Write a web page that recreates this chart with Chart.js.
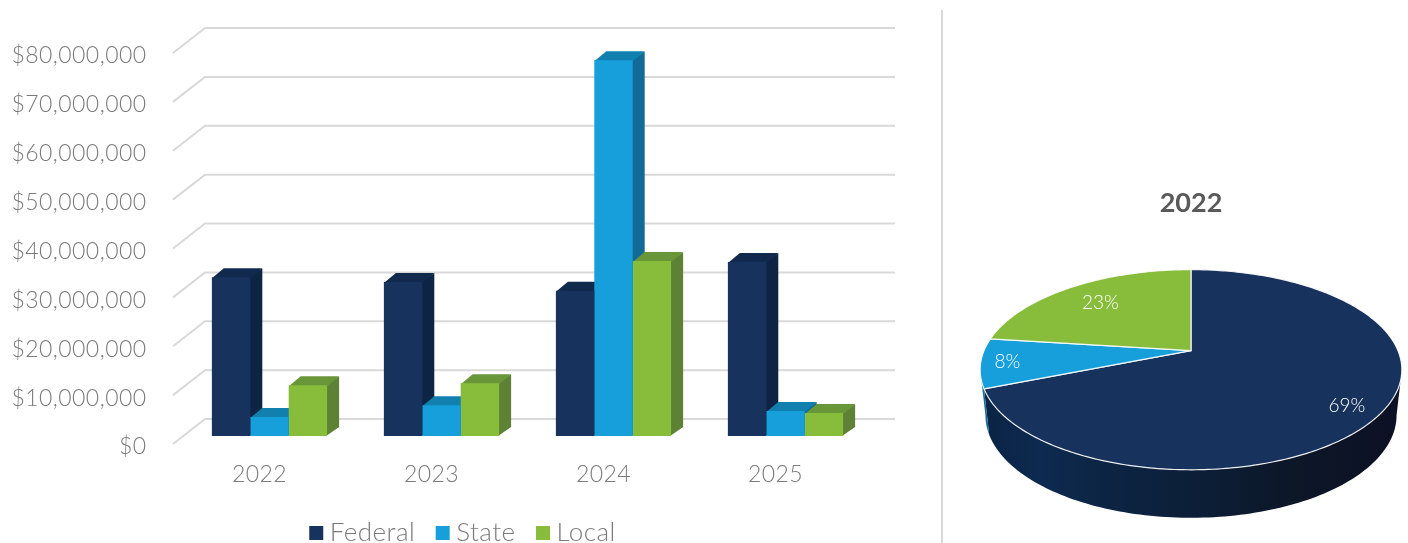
<!DOCTYPE html>
<html>
<head>
<meta charset="utf-8">
<script src="https://cdn.jsdelivr.net/npm/chart.js@4/dist/chart.umd.js"></script>
<style>
html,body{margin:0;padding:0;background:#fff;width:1408px;height:543px;overflow:hidden}
#bar{position:absolute;left:0;top:0}
#pie{position:absolute;left:942px;top:0}
#sep{position:absolute;left:941px;top:10px;width:2px;height:533px;background:#d9d9d9}
</style>
</head>
<body>
<canvas id="bar" width="930" height="556"></canvas>
<div id="sep"></div>
<canvas id="pie" width="466" height="543"></canvas>
<script>
const years = ['2022','2023','2024','2025'];
const federal = [32500000,31500000,29700000,35600000];
const state = [3900000,6300000,76900000,5100000];
const local = [10400000,10800000,35800000,4700000];
const yTicks = [0,10000000,20000000,30000000,40000000,50000000,60000000,70000000,80000000];
const pieYear = '2022';
const pieLabels = ['Federal','State','Local'];
const pieShares = [69,8,23];
const faceColors = ['#17335D','#169FDB','#88BD3C'];
const sideColors = ['#0E2444','#126A97','#5D8235'];
const topColors = ['#11294D','#1180AF','#6A963A'];

const FONT = 'Lato';
const money = v => '$' + Number(v).toLocaleString('en-US');

/* depth of the 3D bars and of the back wall, in pixels */
const barDepth = {x:12, y:9};
const wall = {frontX:-10.5, frontY:8, backX:21.5, backY:-17, right:895};
const legendShift = 30;

const bar3d = {
  id:'bar3d',
  beforeLayout(chart){ chart.ctx.letterSpacing = '0.45px'; },
  afterLayout(chart){ chart.legend.left += legendShift; chart.legend.right += legendShift; },
  beforeDatasetsDraw(chart){
    const c = chart.ctx, ys = chart.scales.y;
    c.save();
    c.strokeStyle = '#d9d9d9'; c.lineWidth = 2;
    yTicks.forEach(v=>{
      const p = ys.getPixelForValue(v);
      c.beginPath();
      c.moveTo(chart.chartArea.left+wall.frontX, p+wall.frontY);
      c.lineTo(chart.chartArea.left+wall.backX, p+wall.backY);
      c.lineTo(wall.right, p+wall.backY);
      c.stroke();
    });
    const dx = barDepth.x, dy = barDepth.y;
    years.forEach((_,i)=>{
      chart.data.datasets.forEach((d,k)=>{
        const el = chart.getDatasetMeta(k).data[i];
        const l = el.x-el.width/2, r = el.x+el.width/2, t = el.y, b = el.base;
        c.fillStyle = sideColors[k];
        c.beginPath();
        c.moveTo(r-1,t); c.lineTo(r+dx,t-dy); c.lineTo(r+dx,b-dy); c.lineTo(r-1,b);
        c.closePath(); c.fill();
        c.fillStyle = topColors[k];
        c.beginPath();
        c.moveTo(l,t+1); c.lineTo(l+dx,t-dy); c.lineTo(r+dx,t-dy); c.lineTo(r,t+1);
        c.closePath(); c.fill();
      });
    });
    c.restore();
  }
};

new Chart(document.getElementById('bar').getContext('2d'),{
  type:'bar',
  data:{labels:years,datasets:[
    {label:'Federal',data:federal,backgroundColor:faceColors[0]},
    {label:'State',data:state,backgroundColor:faceColors[1]},
    {label:'Local',data:local,backgroundColor:faceColors[2]}
  ]},
  plugins:[bar3d],
  options:{
    responsive:false,animation:false,
    layout:{padding:{top:45,right:58.5,left:0,bottom:0}},
    datasets:{bar:{categoryPercentage:0.67,barPercentage:1}},
    scales:{
      x:{grid:{display:false,drawTicks:false},border:{display:false},
        ticks:{color:'#7a7a7a',font:{family:FONT,size:23,weight:'300'},labelOffset:-10,padding:25,maxRotation:0},
        afterFit(s){s.height=57;}},
      y:{min:0,max:80000000,grid:{display:false,drawTicks:false},border:{display:false},
        afterBuildTicks(s){s.ticks=yTicks.map(v=>({value:v}));},
        ticks:{color:'#7a7a7a',font:{family:FONT,size:23,weight:'300'},labelOffset:11,padding:37,callback:money},
        afterFit(s){s.width=183.5;s.paddingTop=0;s.paddingBottom=0;}}
    },
    plugins:{
      tooltip:{enabled:false},title:{display:false},
      legend:{position:'bottom',labels:{
        color:'#7a7a7a',font:{family:FONT,size:26,weight:'300'},
        boxWidth:1,boxHeight:1,padding:27,
        generateLabels(chart){
          return chart.data.datasets.map((d,i)=>({text:d.label,fillStyle:faceColors[i],strokeStyle:faceColors[i],lineWidth:13,fontColor:'#7a7a7a',datasetIndex:i,hidden:false}));
        }
      }}
    }
  }
});

/* perspective pie: canvas angle -> screen point */
const persp = {squash:0.466, k:0.19, rim:45, rimGrow:3, bottomScale:0.975};
const labelRadial = [0.83,0.875,0.73];
const labelShiftY = [6,0,0];
const sideStops = [[0,'#0A2344'],[0.14,'#0E2A50'],[0.3,'#0C2443'],[0.5,'#0C1F38'],[0.74,'#0C1728'],[1,'#0D1024']];

function project(el,ang,r){
  const X = Math.cos(ang)*r, Y = Math.sin(ang)*r, f = 1/(1-persp.k*Y);
  return {x:el.x+el.outerRadius*X*f, y:el.y+el.outerRadius*persp.squash*Y*f};
}
function rimPath(c,el,a0,a1,first){
  const n = Math.max(2,Math.ceil(Math.abs(a1-a0)*60));
  for(let i=0;i<=n;i++){
    const p = project(el,a0+(a1-a0)*i/n,1);
    if(i===0&&first) c.moveTo(p.x,p.y); else c.lineTo(p.x,p.y);
  }
}
const pie3d = {
  id:'pie3d',
  beforeDatasetDraw(chart,args){
    const c = chart.ctx, els = chart.getDatasetMeta(args.index).data;
    const aMin = Math.asin(persp.k), aMax = Math.PI-aMin;
    const e0 = els[0];
    const R = e0.outerRadius/Math.sqrt(1-persp.k*persp.k);
    c.save();
    /* sides */
    els.forEach((el,k)=>{
      let a0 = Math.max(el.startAngle,aMin), a1 = Math.min(el.endAngle,aMax);
      if(a1<=a0) return;
      c.beginPath();
      rimPath(c,el,a0,a1,true);
      const n = 120;
      for(let i=n;i>=0;i--){
        const a = a0+(a1-a0)*i/n, p = project(el,a,1), Y = Math.sin(a);
        c.lineTo(el.x+(p.x-el.x)*persp.bottomScale, p.y+persp.rim+persp.rimGrow*Y);
      }
      c.closePath();
      if(k===0){
        const g = c.createLinearGradient(el.x-R,0,el.x+R,0);
        sideStops.forEach(s=>g.addColorStop(s[0],s[1]));
        c.fillStyle = g;
      } else c.fillStyle = sideColors[k];
      c.fill();
    });
    /* top faces */
    els.forEach((el,k)=>{
      c.beginPath();
      c.moveTo(el.x,el.y);
      rimPath(c,el,el.startAngle,el.endAngle,false);
      c.closePath();
      c.fillStyle = faceColors[k];
      c.fill();
      c.strokeStyle = 'rgba(255,255,255,0.9)';
      c.lineWidth = 1.2;
      c.lineJoin = 'round';
      c.stroke();
    });
    /* labels */
    c.fillStyle = '#ffffff';
    c.font = '300 19px '+FONT;
    c.textAlign = 'center'; c.textBaseline = 'middle';
    els.forEach((el,k)=>{
      const p = project(el,(el.startAngle+el.endAngle)/2,labelRadial[k]);
      c.fillText(pieShares[k]+'%',p.x,p.y+labelShiftY[k]);
    });
    c.restore();
    return false;
  }
};

new Chart(document.getElementById('pie').getContext('2d'),{
  type:'pie',
  data:{labels:pieLabels,datasets:[{data:pieShares,backgroundColor:faceColors,borderWidth:0}]},
  plugins:[pie3d],
  options:{
    responsive:false,animation:false,radius:207,
    layout:{padding:{top:187,left:32,right:0,bottom:61}},
    plugins:{
      tooltip:{enabled:false},legend:{display:false},
      title:{display:true,text:pieYear,color:'#595959',font:{family:FONT,size:27,weight:'bold'},padding:{top:0,bottom:0}}
    }
  }
});
</script>
</body>
</html>
